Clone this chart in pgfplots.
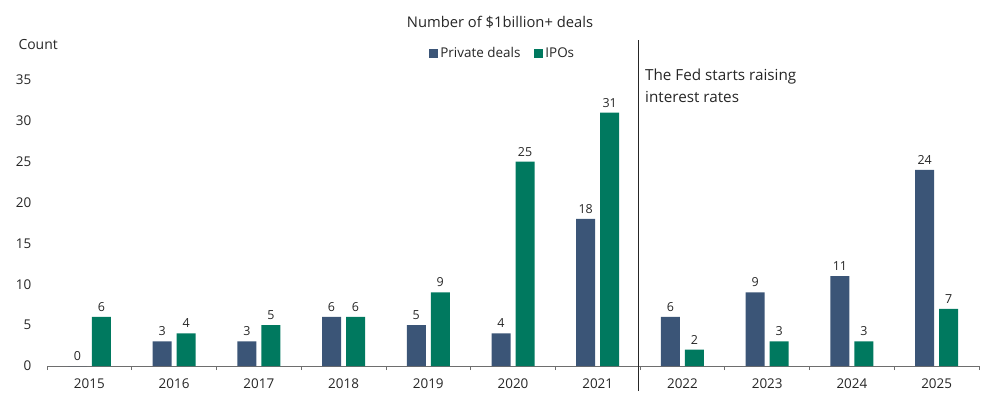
\documentclass[border=0pt]{standalone}
\usepackage{pgfplots}
\pgfplotsset{compat=1.18}
\usepackage{fontspec}
\setmainfont{Open Sans}
\definecolor{privblue}{RGB}{59,85,119}
\definecolor{ipogreen}{RGB}{0,121,95}
\definecolor{txt}{RGB}{38,38,38}
\definecolor{axgray}{RGB}{110,110,110}
\begin{document}
\begin{tikzpicture}[x=1bp,y=1bp]
\path (0,0) rectangle (990,407);
\begin{axis}[
    at={(47bp,41bp)}, anchor=south west,
    width=932bp, height=286bp,
    scale only axis,
    clip=false,
    ybar, bar width=19bp,
    xmin=-0.5, xmax=10.5,
    ymin=0, ymax=35,
    ytick={0,5,...,35},
    xtick={0,...,10},
    xticklabels={2015,2016,2017,2018,2019,2020,2021,2022,2023,2024,2025},
    minor xtick={-0.5,0.5,...,10.5},
    major x tick style={draw=none},
    minor x tick style={axgray, line width=0.8pt},
    minor tick length=4bp,
    tick align=outside,
    ytick style={draw=none},
    axis x line*=bottom,
    axis y line*=left,
    y axis line style={draw=none},
    x axis line style={axgray, line width=0.8pt, -},
    tick label style={font=\fontsize{13.5}{16}\selectfont, text=txt},
    /pgf/number format/assume math mode=true,
    xticklabel style={yshift=-5bp},
    yticklabel style={anchor=east, xshift=-8bp},
    nodes near coords,
    every node near coord/.append style={font=\fontsize{12.5}{14}\selectfont, text=txt, yshift=2bp},
    legend style={at={(0.489,1.094)}, anchor=center, draw=none, legend columns=2,
        font=\fontsize{13.5}{16}\selectfont, text=txt,
        /tikz/every even column/.append style={column sep=12bp}},
    legend image code/.code={\fill[#1] (0bp,-4.5bp) rectangle (9bp,4.5bp);},
]
\addplot[fill=privblue, draw=none, bar shift=-12bp] coordinates {
    (0,0) (1,3) (2,3) (3,6) (4,5) (5,4) (6,18) (7,6) (8,9) (9,11) (10,24)
};
\addplot[fill=ipogreen, draw=none, bar shift=12bp] coordinates {
    (0,6) (1,4) (2,5) (3,6) (4,9) (5,25) (6,31) (7,2) (8,3) (9,3) (10,7)
};
\legend{Private deals, IPOs}
\end{axis}
\draw[txt, line width=0.8pt] (638,16) -- (638,367);
\node[txt, font=\fontsize{14.8}{17}\selectfont] at (500,385) {Number of \$1billion+ deals};
\node[txt, anchor=west, font=\fontsize{14}{16}\selectfont] at (15,362) {Count};
\node[txt, anchor=north west, align=left, font=\fontsize{15.3}{22}\selectfont, inner sep=0pt] at (645,338) {The Fed starts raising\\interest rates};
\end{tikzpicture}
\end{document}
